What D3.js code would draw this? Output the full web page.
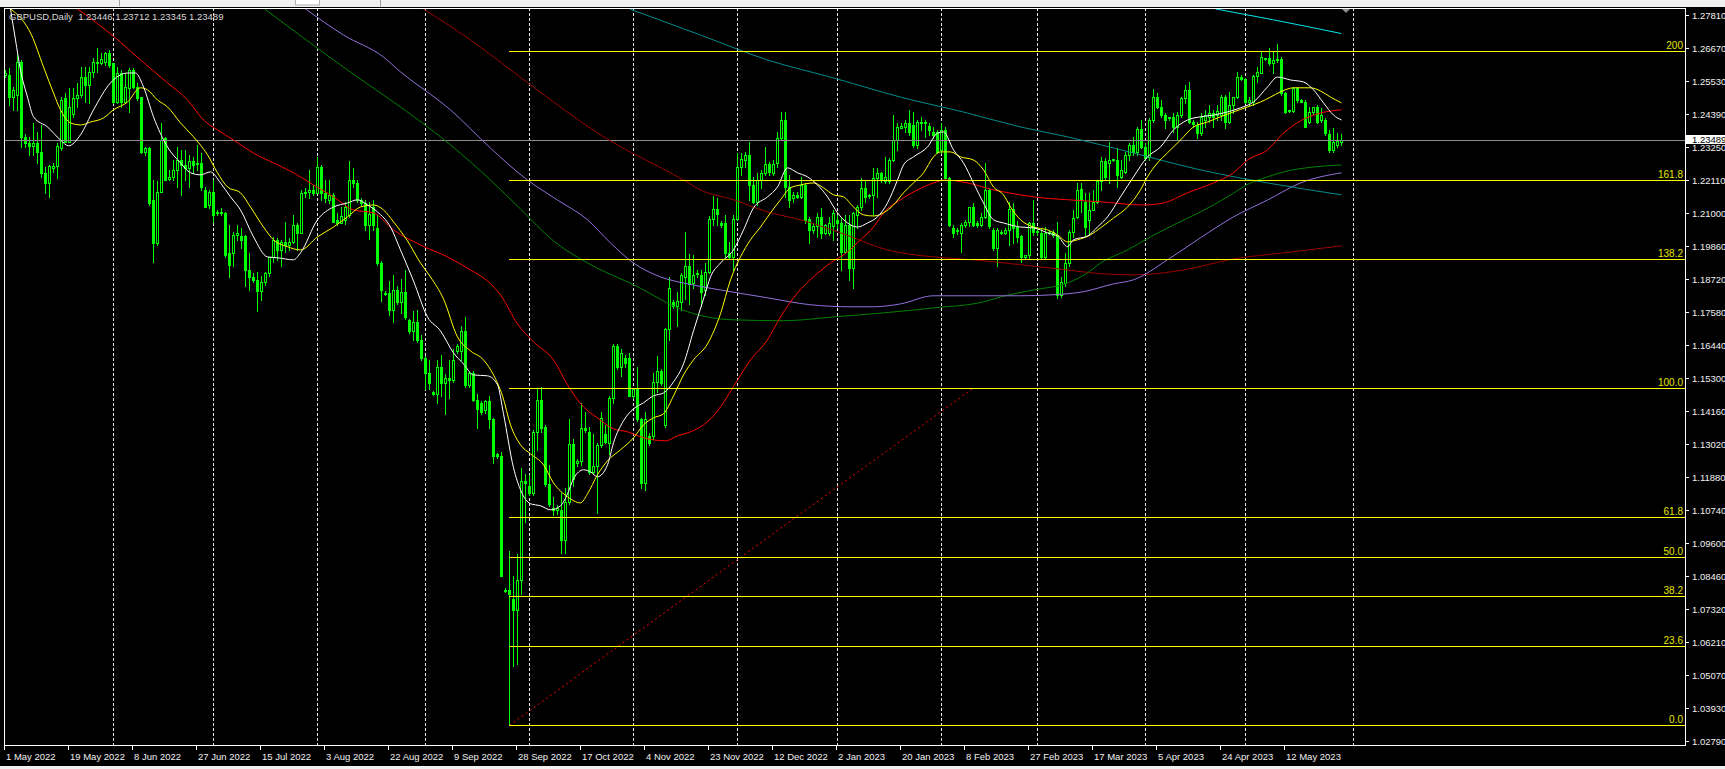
<!DOCTYPE html>
<html><head><meta charset="utf-8">
<script src="https://cdn.jsdelivr.net/npm/d3@7"></script>
<style>
html,body{margin:0;padding:0;background:#000;overflow:hidden;}
svg{display:block;}
text{font-family:"Liberation Sans",Arial,sans-serif;}
</style></head><body>
<svg id="c" width="1725" height="769"></svg>
<script>
// ---------------- DATA ----------------
const symbolTitle = "GBPUSD,Daily";
const open = [
1.2575,1.2574,1.2500,1.2505,1.2620,1.2362,1.2339,1.2330,1.2339,1.2308,
1.2235,1.2203,1.2255,1.2261,1.2321,1.2494,1.2344,1.2440,1.2494,1.2505,
1.2568,1.2540,1.2586,1.2620,1.2614,1.2620,1.2649,1.2614,1.2482,1.2580,
1.2482,1.2528,1.2591,1.2534,1.2500,1.2310,1.2321,1.2143,1.1994,1.2172,
1.2356,1.2215,1.2224,1.2247,1.2281,1.2264,1.2253,1.2276,1.2270,1.2270,
1.2178,1.2126,1.2172,1.2100,1.2103,1.2100,1.1960,1.1960,1.2023,1.2019,
1.2019,1.1902,1.1879,1.1868,1.1830,1.1862,1.1891,1.1948,1.2006,1.1971,
1.2000,1.1988,1.2000,1.2057,1.2029,1.2166,1.2172,1.2178,1.2166,1.2258,
1.2166,1.2143,1.2161,1.2075,1.2063,1.2075,1.2092,1.2212,1.2201,1.2143,
1.2132,1.2057,1.2120,1.2045,1.1927,1.1823,1.1821,1.1765,1.1834,1.1790,
1.1827,1.1728,1.1691,1.1724,1.1660,1.1598,1.1548,1.1480,1.1473,1.1567,
1.1511,1.1529,1.1523,1.1622,1.1622,1.1691,1.1505,1.1548,1.1455,1.1442,
1.1418,1.1449,1.1387,1.1266,1.1262,1.0800,1.0797,1.0766,1.0728,1.0834,
1.1175,1.1157,1.1132,1.1343,1.1455,1.1362,1.1163,1.1082,1.1076,1.1076,
1.0971,1.1101,1.1302,1.1235,1.1244,1.1356,1.1343,1.1207,1.1225,1.1300,
1.1337,1.1306,1.1461,1.1641,1.1567,1.1600,1.1598,1.1467,1.1492,1.1387,
1.1169,1.1331,1.1331,1.1517,1.1554,1.1368,1.1697,1.1790,1.1778,1.1790,
1.1877,1.1914,1.1858,1.1890,1.1883,1.1834,1.1896,1.2076,1.2113,1.2063,
1.2063,1.1960,1.1946,1.2077,1.2258,1.2281,1.2299,1.2195,1.2138,1.2213,
1.2235,1.2268,1.2235,1.2270,1.2356,1.2419,1.2189,1.2150,1.2161,1.2155,
1.2195,1.2077,1.2040,1.2052,1.2086,1.2029,1.2029,1.2052,1.2075,1.2063,
1.1965,1.2057,1.1908,1.2092,1.2120,1.2184,1.2158,1.2161,1.2218,1.2235,
1.2207,1.2207,1.2281,1.2350,1.2393,1.2396,1.2408,1.2402,1.2333,1.2413,
1.2408,1.2399,1.2379,1.2379,1.2316,1.2385,1.2218,1.2046,1.2040,1.2029,
1.2057,1.2069,1.2118,1.2063,1.2057,1.2086,1.2178,1.2040,1.1977,1.2034,
1.2029,1.2040,1.2111,1.2051,1.2019,1.1946,1.1954,1.2063,1.2034,1.2029,
1.1948,1.2030,1.2034,1.2023,1.1816,1.1856,1.1925,1.2034,1.2086,1.2180,
1.2138,1.2075,1.2109,1.2138,1.2207,1.2279,1.2270,1.2280,1.2281,1.2224,
1.2241,1.2298,1.2333,1.2310,1.2387,1.2327,1.2290,1.2419,1.2500,1.2463,
1.2436,1.2425,1.2431,1.2394,1.2436,1.2494,1.2523,1.2413,1.2402,1.2373,
1.2419,1.2431,1.2442,1.2436,1.2436,1.2500,1.2413,1.2471,1.2497,1.2566,
1.2559,1.2482,1.2482,1.2569,1.2582,1.2630,1.2632,1.2615,1.2626,1.2628,
1.2511,1.2450,1.2451,1.2528,1.2488,1.2482,1.2413,1.2445,1.2463,1.2419,
1.2419,1.2371,1.2316,1.2333,1.23446];
const high = [
1.2590,1.2597,1.2534,1.2643,1.2626,1.2370,1.2360,1.2408,1.2379,1.2402,
1.2258,1.2264,1.2270,1.2339,1.2500,1.2511,1.2528,1.2528,1.2545,1.2603,
1.2603,1.2603,1.2632,1.2666,1.2649,1.2655,1.2660,1.2616,1.2603,1.2591,
1.2580,1.2597,1.2597,1.2545,1.2500,1.2327,1.2327,1.2212,1.2207,1.2408,
1.2362,1.2247,1.2281,1.2327,1.2316,1.2316,1.2299,1.2293,1.2333,1.2304,
1.2189,1.2178,1.2212,1.2109,1.2115,1.2103,1.2057,1.2034,1.2057,1.2046,
1.2023,1.1960,1.1890,1.1896,1.1880,1.1896,1.1948,1.2017,1.2011,1.2006,
1.2069,1.2011,1.2092,1.2063,1.2178,1.2184,1.2247,1.2195,1.2293,1.2264,
1.2212,1.2212,1.2166,1.2097,1.2120,1.2135,1.2276,1.2253,1.2212,1.2150,
1.2143,1.2138,1.2144,1.2090,1.1933,1.1830,1.1865,1.1883,1.1845,1.1871,
1.1902,1.1734,1.1759,1.1765,1.1678,1.1604,1.1591,1.1486,1.1591,1.1610,
1.1542,1.1591,1.1629,1.1645,1.1709,1.1740,1.1550,1.1554,1.1473,1.1450,
1.1455,1.1467,1.1393,1.1270,1.1275,1.0806,1.0933,1.0846,1.0921,1.1219,
1.1200,1.1194,1.1349,1.1492,1.1498,1.1368,1.1231,1.1120,1.1090,1.1132,
1.1151,1.1387,1.1318,1.1250,1.1442,1.1411,1.1362,1.1337,1.1306,1.1411,
1.1368,1.1467,1.1647,1.1647,1.1629,1.1610,1.1616,1.1495,1.1567,1.1393,
1.1411,1.1340,1.1548,1.1604,1.1560,1.1703,1.1877,1.1800,1.1827,1.1890,
1.2032,1.1958,1.1952,1.1902,1.1902,1.1927,1.2088,1.2157,1.2150,1.2070,
1.2092,1.2000,1.2092,1.2304,1.2304,1.2310,1.2344,1.2224,1.2235,1.2247,
1.2327,1.2275,1.2281,1.2379,1.2448,1.2448,1.2230,1.2170,1.2170,1.2224,
1.2201,1.2086,1.2063,1.2097,1.2115,1.2060,1.2086,1.2109,1.2092,1.2086,
1.2092,1.2092,1.2103,1.2126,1.2218,1.2207,1.2165,1.2253,1.2253,1.2240,
1.2293,1.2287,1.2436,1.2408,1.2410,1.2419,1.2453,1.2448,1.2419,1.2430,
1.2419,1.2408,1.2396,1.2385,1.2408,1.2396,1.2224,1.2057,1.2046,1.2063,
1.2075,1.2120,1.2132,1.2070,1.2097,1.2270,1.2184,1.2046,1.2046,1.2040,
1.2045,1.2138,1.2132,1.2070,1.2023,1.1955,1.2069,1.2143,1.2051,1.2046,
1.2051,1.2036,1.2040,1.2069,1.1879,1.1960,1.2040,1.2109,1.2201,1.2201,
1.2166,1.2166,1.2178,1.2212,1.2293,1.2287,1.2344,1.2286,1.2321,1.2281,
1.2310,1.2339,1.2361,1.2396,1.2419,1.2339,1.2425,1.2525,1.2511,1.2488,
1.2442,1.2430,1.2442,1.2448,1.2500,1.2540,1.2551,1.2420,1.2413,1.2442,
1.2454,1.2471,1.2454,1.2471,1.2505,1.2505,1.2517,1.2500,1.2586,1.2574,
1.2563,1.2500,1.2574,1.2603,1.2655,1.2634,1.2666,1.2655,1.2681,1.2637,
1.2517,1.2455,1.2534,1.2534,1.2490,1.2488,1.2465,1.2465,1.2471,1.2459,
1.2425,1.2385,1.2390,1.2373,1.23712];
const low = [
1.2568,1.2471,1.2454,1.2454,1.2327,1.2327,1.2300,1.2299,1.2270,1.2224,
1.2166,1.2155,1.2241,1.2218,1.2316,1.2344,1.2344,1.2431,1.2465,1.2500,
1.2482,1.2477,1.2568,1.2586,1.2612,1.2609,1.2603,1.2477,1.2477,1.2465,
1.2477,1.2448,1.2528,1.2488,1.2304,1.2299,1.2126,1.1931,1.1988,1.2172,
1.2212,1.2212,1.2212,1.2189,1.2161,1.2212,1.2189,1.2235,1.2247,1.2178,
1.2120,1.2115,1.2069,1.2092,1.2092,1.1948,1.1879,1.1914,1.2006,1.1977,
1.1845,1.1833,1.1860,1.1762,1.1800,1.1850,1.1880,1.1931,1.1937,1.1914,
1.1965,1.1971,1.1994,1.1971,1.2029,1.2155,1.2149,1.2160,1.2166,1.2143,
1.2138,1.2132,1.2069,1.2057,1.2063,1.2060,1.2086,1.2189,1.2138,1.2126,
1.2040,1.2008,1.2040,1.1920,1.1796,1.1815,1.1747,1.1722,1.1785,1.1753,
1.1734,1.1685,1.1660,1.1654,1.1591,1.1492,1.1492,1.1470,1.1442,1.1467,
1.1405,1.1461,1.1517,1.1615,1.1591,1.1498,1.1500,1.1449,1.1356,1.1405,
1.1410,1.1356,1.1238,1.1255,1.0846,1.0790,1.0335,1.0536,1.0542,1.0784,
1.1033,1.1126,1.1126,1.1281,1.1343,1.1157,1.1088,1.1058,1.1060,1.0927,
1.0927,1.1095,1.1157,1.1225,1.1231,1.1343,1.1200,1.1200,1.1064,1.1290,
1.1306,1.1268,1.1442,1.1561,1.1536,1.1567,1.1467,1.1460,1.1380,1.1151,
1.1144,1.1300,1.1318,1.1480,1.1505,1.1362,1.1660,1.1770,1.1709,1.1765,
1.1803,1.1784,1.1840,1.1877,1.1778,1.1815,1.1890,1.2057,1.2057,1.2050,
1.1948,1.1942,1.1902,1.2075,1.2230,1.2258,1.2144,1.2132,1.2126,1.2184,
1.2230,1.2230,1.2230,1.2258,1.2350,1.2155,1.2120,1.2138,1.2150,1.2149,
1.2063,1.1994,1.2029,1.2017,1.2011,1.2025,1.2023,1.2006,1.2046,1.1902,
1.1960,1.1868,1.1839,1.2046,1.2109,1.2138,1.2150,1.2092,1.2155,1.2205,
1.2201,1.2201,1.2276,1.2316,1.2390,1.2379,1.2367,1.2327,1.2321,1.2385,
1.2362,1.2367,1.2356,1.2304,1.2304,1.2213,1.2052,1.2017,1.2025,1.1965,
1.2050,1.2052,1.2052,1.2050,1.2052,1.2080,1.2046,1.1971,1.1914,1.2025,
1.2025,1.1988,1.1994,1.2000,1.1931,1.1940,1.1942,1.2023,1.2023,1.1942,
1.1942,1.2025,1.2017,1.1805,1.1810,1.1845,1.1914,1.2017,1.2080,1.2103,
1.2023,1.2023,1.2109,1.2132,1.2178,1.2212,1.2201,1.2278,1.2189,1.2218,
1.2235,1.2281,1.2298,1.2298,1.2321,1.2281,1.2281,1.2413,1.2459,1.2431,
1.2390,1.2420,1.2379,1.2350,1.2431,1.2477,1.2408,1.2396,1.2356,1.2367,
1.2396,1.2413,1.2396,1.2419,1.2419,1.2390,1.2408,1.2442,1.2494,1.2557,
1.2477,1.2471,1.2471,1.2551,1.2580,1.2627,1.2609,1.2580,1.2620,1.2505,
1.2442,1.2445,1.2448,1.2482,1.2480,1.2396,1.2408,1.2440,1.2408,1.2413,
1.2367,1.2310,1.2310,1.2327,1.23345];
const close = [
1.2580,1.2500,1.2522,1.2620,1.2362,1.2339,1.2330,1.2339,1.2310,1.2235,
1.2203,1.2261,1.2261,1.2330,1.2488,1.2344,1.2465,1.2494,1.2505,1.2568,
1.2540,1.2586,1.2620,1.2614,1.2628,1.2649,1.2609,1.2482,1.2580,1.2482,
1.2534,1.2591,1.2534,1.2494,1.2310,1.2321,1.2132,1.1994,1.2172,1.2350,
1.2212,1.2224,1.2247,1.2281,1.2264,1.2253,1.2276,1.2264,1.2268,1.2189,
1.2120,1.2172,1.2092,1.2103,1.2097,1.1954,1.1919,1.2023,1.2031,1.2006,
1.1902,1.1879,1.1868,1.1830,1.1860,1.1891,1.1948,1.2006,1.1971,1.2000,
1.1988,1.2000,1.2057,1.2029,1.2166,1.2172,1.2178,1.2166,1.2258,1.2166,
1.2149,1.2161,1.2069,1.2063,1.2088,1.2120,1.2212,1.2201,1.2143,1.2132,
1.2057,1.2094,1.2057,1.1927,1.1834,1.1820,1.1765,1.1834,1.1790,1.1827,
1.1740,1.1691,1.1724,1.1660,1.1598,1.1548,1.1511,1.1473,1.1567,1.1511,
1.1529,1.1523,1.1591,1.1639,1.1691,1.1505,1.1548,1.1455,1.1424,1.1411,
1.1449,1.1387,1.1262,1.1259,1.0846,1.0794,1.0784,1.0728,1.0834,1.1175,
1.1169,1.1132,1.1343,1.1455,1.1356,1.1163,1.1095,1.1076,1.1082,1.0971,
1.1101,1.1302,1.1182,1.1244,1.1356,1.1349,1.1207,1.1225,1.1300,1.1393,
1.1310,1.1461,1.1641,1.1567,1.1616,1.1580,1.1467,1.1492,1.1387,1.1169,
1.1387,1.1306,1.1517,1.1554,1.1511,1.1697,1.1840,1.1778,1.1796,1.1883,
1.1914,1.1852,1.1883,1.1887,1.1827,1.1896,1.2078,1.2113,1.2094,1.2057,
1.1960,1.1946,1.2077,1.2258,1.2284,1.2299,1.2195,1.2138,1.2213,1.2235,
1.2268,1.2240,1.2268,1.2356,1.2419,1.2189,1.2144,1.2161,1.2155,1.2195,
1.2075,1.2040,1.2054,1.2086,1.2029,1.2057,1.2063,1.2097,1.2063,1.1965,
1.2057,1.1908,1.2097,1.2120,1.2184,1.2155,1.2161,1.2218,1.2235,1.2213,
1.2224,1.2281,1.2350,1.2396,1.2400,1.2408,1.2379,1.2333,1.2413,1.2408,
1.2413,1.2385,1.2367,1.2310,1.2385,1.2218,1.2057,1.2031,1.2035,1.2057,
1.2069,1.2118,1.2057,1.2056,1.2086,1.2178,1.2054,1.1977,1.2040,1.2029,
1.2040,1.2111,1.2046,1.2017,1.1946,1.1954,1.2063,1.2034,1.2038,1.1948,
1.2029,1.2034,1.2023,1.1816,1.1862,1.1925,1.2034,1.2080,1.2178,1.2143,
1.2051,1.2109,1.2138,1.2207,1.2279,1.2224,1.2281,1.2284,1.2230,1.2247,
1.2298,1.2333,1.2310,1.2387,1.2327,1.2287,1.2419,1.2500,1.2463,1.2436,
1.2419,1.2431,1.2396,1.2436,1.2494,1.2523,1.2413,1.2405,1.2373,1.2431,
1.2436,1.2442,1.2430,1.2451,1.2500,1.2413,1.2471,1.2497,1.2566,1.2560,
1.2482,1.2488,1.2569,1.2586,1.2635,1.2632,1.2615,1.2626,1.2630,1.2511,
1.2448,1.2452,1.2528,1.2488,1.2482,1.2396,1.2448,1.2463,1.2413,1.2436,
1.2373,1.2316,1.2344,1.2348,1.23489];

// time axis
const tickLabels = ["1 May 2022","19 May 2022","8 Jun 2022","27 Jun 2022","15 Jul 2022","3 Aug 2022","22 Aug 2022","9 Sep 2022","28 Sep 2022","17 Oct 2022","4 Nov 2022","23 Nov 2022","12 Dec 2022","2 Jan 2023","20 Jan 2023","8 Feb 2023","27 Feb 2023","17 Mar 2023","5 Apr 2023","24 Apr 2023","12 May 2023"];
const tickBars = [0,16,32,48,64,80,96,112,128,144,160,176,192,208,224,240,256,272,288,304,320];
const monthStartBars = [27,52,78,105,131,157,183,208,234,258,285,310,337];
// price axis
const priceTicks = ["1.27810","1.26670","1.25530","1.24390","1.23250","1.22110","1.21000","1.19860","1.18720","1.17580","1.16440","1.15300","1.14160","1.13020","1.11880","1.10740","1.09600","1.08460","1.07320","1.06210","1.05070","1.03930","1.02790"];
const bidPrice = 1.23489;
// fibonacci
const fibLevels = [0, 23.6, 38.2, 50, 61.8, 100, 138.2, 161.8, 200];
const fibText   = ["0.0","23.6","38.2","50.0","61.8","100.0","138.2","161.8","200"];
const fibStart = {bar:126, price:1.0332};
const fibEnd   = {bar:242, price:1.1495};

// moving averages: [bar, price]
const maWhite = [[1.25,1.2802],[2.5,1.2695],[3.75,1.2591],[5.5,1.2498],[7,1.2430],[10.5,1.2395],[13.75,1.2350],[15.75,1.2330],[18.75,1.2368],[22,1.2454],[26.25,1.2547],[30.5,1.2581],[32.5,1.2581],[34.5,1.2533],[37,1.2430],[40.5,1.2326],[43.75,1.2271],[46.25,1.2237],[48.75,1.2230],[51.25,1.2240],[53.75,1.2202],[56.25,1.2154],[58.75,1.2109],[62,1.2016],[65.5,1.1947],[68,1.1944],[72,1.1937],[73.75,1.1961],[78,1.2075],[82,1.2119],[85.5,1.2133],[88,1.2144],[90.5,1.2126],[93,1.2102],[96.25,1.2050],[98.75,1.1971],[102,1.1864],[105.5,1.1740],[108.75,1.1692],[112,1.1616],[114.5,1.1578],[117,1.1540],[120.5,1.1537],[123,1.1506],[124.5,1.1406],[127,1.1220],[128.75,1.1144],[131.25,1.1096],[133.75,1.1089],[136.25,1.1075],[138.75,1.1089],[140.5,1.1130],[142,1.1182],[144.5,1.1213],[146.25,1.1206],[148,1.1189],[150.5,1.1230],[152,1.1306],[154.5,1.1382],[157,1.1423],[159.5,1.1444],[162,1.1468],[164.5,1.1478],[167,1.1516],[169.5,1.1578],[172,1.1692],[174.5,1.1802],[176.25,1.1878],[178.75,1.1926],[182,1.1971],[184.5,1.2040],[187,1.2116],[190.5,1.2154],[193,1.2188],[195.5,1.2254],[198,1.2237],[200.5,1.2223],[203,1.2195],[205.5,1.2154],[208,1.2099],[210.5,1.2064],[213,1.2050],[215.5,1.2064],[218,1.2085],[220.5,1.2133],[223,1.2212],[224.5,1.2264],[227,1.2292],[230.5,1.2326],[233,1.2374],[234.5,1.2378],[237,1.2316],[239.5,1.2271],[242,1.2202],[244.5,1.2133],[247,1.2075],[249.5,1.2064],[253.75,1.2050],[257,1.2047],[260.5,1.2030],[263.25,1.2016],[265.5,1.1982],[267,1.2006],[270.5,1.2019],[273,1.2050],[275.5,1.2085],[278.75,1.2154],[282,1.2223],[285.5,1.2292],[288.75,1.2326],[292,1.2385],[295.5,1.2419],[298.75,1.2430],[302,1.2436],[305.5,1.2447],[308.75,1.2461],[312,1.2481],[315.5,1.2533],[318,1.2567],[321.25,1.2557],[324.5,1.2550],[327,1.2523],[329.5,1.2478],[332,1.2436],[334,1.2419]];
const maYellow = [[1.25,1.2802],[6.5,1.2712],[9.5,1.2602],[12,1.2512],[13.75,1.2454],[16.25,1.2409],[18.75,1.2402],[21.25,1.2412],[24.5,1.2426],[27,1.2454],[30.5,1.2481],[33.75,1.2530],[35.5,1.2523],[38,1.2488],[40.5,1.2464],[43.75,1.2409],[47,1.2361],[50.5,1.2299],[53,1.2237],[55.5,1.2188],[58.75,1.2168],[61.25,1.2119],[64.5,1.2050],[67,1.2006],[70.5,1.1982],[73.75,1.1971],[78,1.2016],[82,1.2050],[85.5,1.2085],[88.75,1.2119],[92,1.2126],[94.5,1.2109],[97,1.2068],[100.5,1.2002],[103.75,1.1926],[106.25,1.1878],[109.5,1.1802],[113,1.1671],[116.25,1.1623],[119.5,1.1592],[122,1.1540],[124.25,1.1468],[126.25,1.1368],[128.75,1.1299],[131.25,1.1268],[134.5,1.1230],[137,1.1168],[140.5,1.1120],[143.75,1.1099],[145.5,1.1130],[148,1.1196],[150.5,1.1244],[153.75,1.1282],[157,1.1323],[159.5,1.1368],[162,1.1392],[164.5,1.1406],[167,1.1468],[169.5,1.1540],[172,1.1592],[175.5,1.1647],[178.75,1.1751],[181.25,1.1868],[183.75,1.1947],[186.25,1.2006],[188.75,1.2050],[191.25,1.2099],[193.75,1.2144],[196.25,1.2185],[198.75,1.2195],[202,1.2202],[204.5,1.2185],[207,1.2161],[209.5,1.2154],[212,1.2119],[214.5,1.2092],[217,1.2088],[219.5,1.2099],[222,1.2126],[224.5,1.2168],[227,1.2202],[229.5,1.2237],[232,1.2292],[233.75,1.2309],[236.25,1.2309],[238.75,1.2292],[242,1.2281],[244.5,1.2247],[247,1.2188],[249.5,1.2161],[251.25,1.2119],[253.75,1.2075],[257,1.2050],[260.5,1.2040],[263,1.2023],[265.5,1.1999],[268,1.2006],[271.25,1.2023],[273.75,1.2047],[277,1.2081],[280.5,1.2119],[283.75,1.2178],[285.5,1.2223],[288,1.2271],[290.5,1.2306],[293.75,1.2350],[297,1.2395],[300.5,1.2412],[303.75,1.2430],[307,1.2447],[310.5,1.2464],[313.75,1.2481],[316.25,1.2498],[318.75,1.2516],[322,1.2530],[326.25,1.2530],[328.75,1.2519],[331.25,1.2498],[334,1.2478]];
const maRed = [[18,1.2802],[27.5,1.2702],[33.75,1.2626],[40.5,1.2547],[45.5,1.2488],[49.5,1.2419],[53,1.2385],[57,1.2350],[62,1.2305],[67,1.2271],[72,1.2237],[77,1.2195],[82,1.2154],[87,1.2109],[92,1.2099],[97,1.2040],[103.75,1.1988],[110.5,1.1947],[116.25,1.1902],[120.5,1.1864],[123.75,1.1816],[128,1.1716],[132,1.1654],[137,1.1592],[140.5,1.1506],[144.5,1.1430],[148,1.1392],[152,1.1354],[155.5,1.1344],[158.75,1.1327],[162,1.1316],[165,1.1313],[168,1.1330],[171.25,1.1344],[174.5,1.1368],[177,1.1399],[178.75,1.1430],[182,1.1500],[186.25,1.1592],[190.5,1.1661],[193.75,1.1740],[198,1.1823],[202,1.1878],[206.25,1.1926],[210.5,1.1964],[213.75,1.2006],[217,1.2050],[219.5,1.2099],[223.75,1.2144],[228,1.2178],[232,1.2202],[235,1.2212],[240.5,1.2202],[247,1.2178],[253.75,1.2161],[257,1.2154],[265.5,1.2144],[273.75,1.2137],[284.5,1.2126],[289.5,1.2133],[295.5,1.2168],[302,1.2202],[307,1.2237],[310.5,1.2281],[315.5,1.2316],[319.5,1.2374],[323.75,1.2416],[328.75,1.2443],[334,1.2454]];
const maMaroon = [[104.5,1.2802],[116.25,1.2695],[131.25,1.2540],[148.75,1.2368],[169.5,1.2212],[173.75,1.2178],[182,1.2144],[190.5,1.2102],[198.75,1.2075],[208.75,1.2030],[220.5,1.1971],[232,1.1947],[242,1.1937],[253.75,1.1920],[265.5,1.1902],[273.75,1.1889],[282,1.1885],[294.5,1.1902],[307,1.1940],[319.5,1.1961],[334,1.1985]];
const maGreen = [[64.75,1.2802],[74.5,1.2702],[82,1.2626],[90.5,1.2543],[98.75,1.2464],[111.25,1.2333],[121.25,1.2212],[128.75,1.2112],[137,1.2002],[145.5,1.1926],[157,1.1851],[170.5,1.1758],[178.75,1.1733],[182,1.1730],[194.5,1.1727],[207,1.1740],[219.5,1.1754],[232,1.1771],[244.5,1.1792],[248.75,1.1809],[257,1.1833],[265.5,1.1857],[270.5,1.1892],[273.75,1.1926],[280.5,1.1971],[286.25,1.2016],[293,1.2064],[298.75,1.2102],[305.5,1.2154],[311.25,1.2202],[315.5,1.2223],[319.5,1.2240],[327,1.2257],[334,1.2264]];
const maPurple = [[75,1.2802],[84.5,1.2712],[94.5,1.2636],[98.75,1.2585],[111.25,1.2454],[121.25,1.2322],[130.5,1.2212],[138,1.2143],[145.5,1.2075],[151.25,1.1995],[157,1.1926],[163.75,1.1878],[170.5,1.1854],[178.75,1.1833],[190.5,1.1806],[201.25,1.1782],[211.25,1.1775],[217,1.1775],[223.75,1.1785],[232,1.1813],[243.75,1.1813],[253.75,1.1813],[261.25,1.1816],[269.5,1.1827],[277,1.1854],[282,1.1868],[290.5,1.1937],[298.75,1.2013],[307,1.2085],[315.5,1.2143],[323.75,1.2202],[334,1.2237]];
const maTeal = [[156,1.2802],[173.75,1.2712],[190.5,1.2626],[207,1.2564],[223.75,1.2498],[240.5,1.2443],[253.75,1.2395],[265.5,1.2361],[282,1.2305],[298.75,1.2247],[315.5,1.2202],[334,1.2161]];
const maCyan = [[302.5,1.2802],[316.75,1.2765],[334,1.2717]];

// ---------------- DRAW ----------------
const svg = d3.select("#c");
const PL=4, PT=8, PR=1685, PB=745;
const x = d3.scaleLinear().domain([0,1]).range([5,9]);          // left pixel column of a bar's centre
const y = d3.scaleLinear().domain([1.0279,1.2781]).range([740.7,15]);
const LIME="#00ff00";

svg.append("rect").attr("width",1725).attr("height",769).attr("fill","#000");
// window chrome strips
svg.append("rect").attr("x",0).attr("y",0).attr("width",1725).attr("height",7).attr("fill","#f0f0f0");
svg.append("line").attr("x1",119.5).attr("x2",119.5).attr("y1",0).attr("y2",6).attr("stroke","#a0a0a0");
svg.append("rect").attr("x",295.5).attr("y",-1).attr("width",24).attr("height",6).attr("fill","#fff").attr("stroke","#b0b0b0");
svg.append("line").attr("x1",380.5).attr("x2",380.5).attr("y1",0).attr("y2",7).attr("stroke","#a0a0a0");
svg.append("rect").attr("x",0).attr("y",766).attr("width",1725).attr("height",3).attr("fill","#f0f0f0");

const defs = svg.append("defs");
defs.append("clipPath").attr("id","plot").append("rect").attr("x",PL+1).attr("y",PT+1).attr("width",PR-PL-1).attr("height",PB-PT-1);
const g = svg.append("g").attr("clip-path","url(#plot)").attr("shape-rendering","crispEdges");

// month separators (dashed grid)
g.selectAll("line.grid").data(monthStartBars).join("line")
  .attr("x1",d=>x(d)+0.5).attr("x2",d=>x(d)+0.5).attr("y1",PT).attr("y2",PB)
  .attr("stroke","#e8e8e8").attr("stroke-dasharray","3,2");

// candles
const bars = d3.range(open.length);
const cg = g.append("g");
bars.forEach(i=>{
  const cx = Math.round(x(i));
  const o=open[i], c=close[i];
  const hy = Math.round(y(Math.max(high[i],o,c))), ly = Math.round(y(Math.min(low[i],o,c)));
  cg.append("rect").attr("x",cx).attr("y",hy).attr("width",1).attr("height",Math.max(1,ly-hy+1)).attr("fill",LIME);
  const top = Math.round(y(Math.max(o,c))), bot = Math.round(y(Math.min(o,c)));
  const h = Math.max(1, bot-top+1);
  cg.append("rect").attr("x",cx-1).attr("y",top).attr("width",3).attr("height",h).attr("fill",LIME);
  if (c>o && h>=3) cg.append("rect").attr("x",cx).attr("y",top+1).attr("width",1).attr("height",h-2).attr("fill","#000");
});

// bid line
const by = Math.round(y(bidPrice))+0.5;
g.append("line").attr("x1",PL).attr("x2",PR).attr("y1",by).attr("y2",by).attr("stroke","#8c8c8c");

// moving averages
const lineGen = d3.line().x(d=>x(d[0])+0.5).y(d=>y(d[1])).curve(d3.curveMonotoneX);
const mg = svg.append("g").attr("clip-path","url(#plot)");
[[maMaroon,"#9b0000"],[maGreen,"#008000"],[maPurple,"#9370db"],[maTeal,"#008b8b"],[maCyan,"#00e8f0"],
 [maRed,"#ff0000"],[maYellow,"#ffff00"],[maWhite,"#ffffff"]].forEach(([d,col])=>{
  mg.append("path").attr("d",lineGen(d)).attr("fill","none").attr("stroke",col).attr("stroke-width",1);
});

// fibonacci
const fg = svg.append("g").attr("clip-path","url(#plot)");
const fibPrice = lv => fibStart.price + (fibEnd.price-fibStart.price)*lv/100;
fg.append("line").attr("x1",x(fibStart.bar)+0.5).attr("y1",y(fibStart.price))
  .attr("x2",x(fibEnd.bar)+0.5).attr("y2",y(fibEnd.price))
  .attr("stroke","#ff0000").attr("stroke-dasharray","2,3");
fibLevels.forEach((lv,k)=>{
  const ly = Math.round(y(fibPrice(lv)))+0.5;
  fg.append("line").attr("x1",x(fibStart.bar)).attr("x2",PR).attr("y1",ly).attr("y2",ly)
    .attr("stroke","#ffff00").attr("shape-rendering","crispEdges");
  fg.append("text").attr("x",PR-2).attr("y",ly-2.5).attr("text-anchor","end")
    .attr("font-size","10px").attr("fill","#e6e600").text(fibText[k]);
});

// frame
const fr = svg.append("g").attr("stroke","#fff").attr("shape-rendering","crispEdges");
fr.append("line").attr("x1",PL+0.5).attr("x2",PL+0.5).attr("y1",PT).attr("y2",PB+1);
fr.append("line").attr("x1",PL).attr("x2",PR+1).attr("y1",PT+0.5).attr("y2",PT+0.5);
fr.append("line").attr("x1",PR+0.5).attr("x2",PR+0.5).attr("y1",PT).attr("y2",PB+1);
fr.append("line").attr("x1",PL).attr("x2",PR+1).attr("y1",PB+0.5).attr("y2",PB+0.5);

// price axis
const tagY = Math.round(y(bidPrice));
defs.append("clipPath").attr("id","belowTag").append("rect").attr("x",1686).attr("y",tagY+4).attr("width",39).attr("height",20);
priceTicks.forEach(t=>{
  const ty = Math.round(y(+t))+0.5;
  fr.append("line").attr("x1",PR+1).attr("x2",PR+4).attr("y1",ty).attr("y2",ty);
  const tx = svg.append("text").attr("x",1692).attr("y",ty).attr("dy","0.35em").attr("font-size","9.5px")
    .attr("fill","#f0f0f0").text(t);
  if (Math.abs(ty - tagY) < 11) tx.attr("clip-path","url(#belowTag)");   // partly hidden behind the price tag
});
// time axis
tickBars.forEach((b,k)=>{
  const tx = Math.round(x(b))-0.5;
  fr.append("line").attr("x1",tx).attr("x2",tx).attr("y1",PB).attr("y2",PB+5);
  svg.append("text").attr("x",tx+1.5).attr("y",760).attr("font-size","9.5px").attr("fill","#f0f0f0").text(tickLabels[k]);
});

// current price tag
svg.append("rect").attr("x",1686).attr("y",tagY-5).attr("width",39).attr("height",9).attr("fill","#fff");
svg.append("text").attr("x",1692).attr("y",tagY-0.5).attr("dy","0.35em").attr("font-size","9.5px").attr("fill","#000").text(bidPrice.toFixed(5));

// chart shift marker
svg.append("path").attr("d","M1342,9 L1350,9 L1346,13 Z").attr("fill","#8c8c8c");

// title
svg.append("text").attr("x",9).attr("y",20).attr("font-size","9.5px").attr("fill","#d8d8d8")
  .style("white-space","pre")
  .text(symbolTitle+"  "+[open,high,low,close].map(a=>a[a.length-1].toFixed(5)).join(" "));
</script>
</body></html>
